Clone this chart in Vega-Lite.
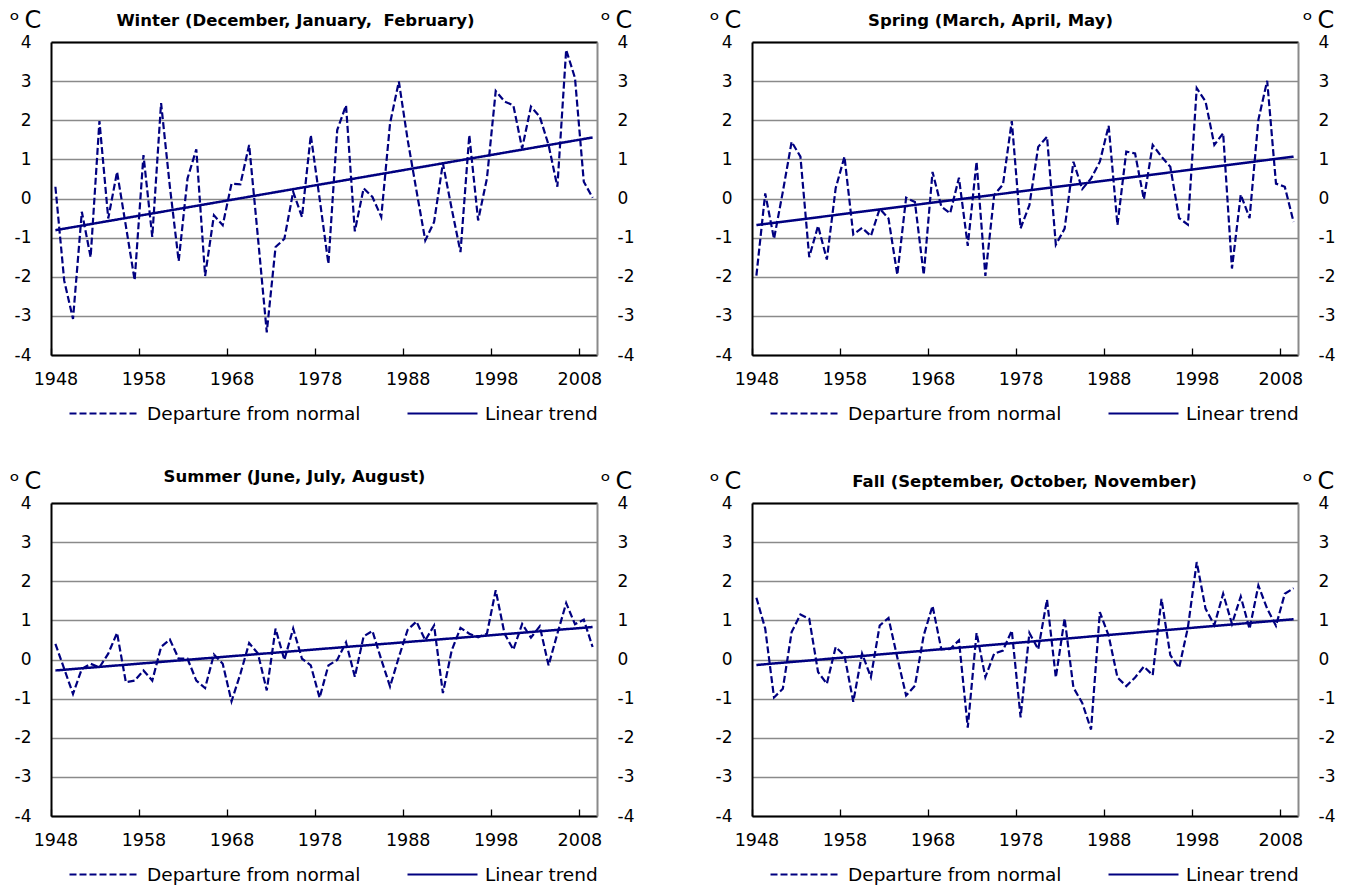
{
  "$schema": "https://vega.github.io/schema/vega-lite/v6.json",
  "background": "white",
  "padding": {"left": 9, "top": 8, "right": 5, "bottom": 5},
  "config": {
    "font": "DejaVu Sans, Liberation Sans, sans-serif",
    "view": {"stroke": null},
    "axis": {"labelFont": "DejaVu Sans", "titleFont": "DejaVu Sans", "labelColor": "black", "titleColor": "black", "labelFlush": false, "labelOverlap": false, "grid": false, "ticks": false, "domainWidth": 2},
    "axisLeft": {"grid": true, "gridColor": "#8a8a8a", "gridWidth": 1.3, "domainColor": "black", "labelFontSize": 17, "labelPadding": 20, "titleAngle": 0, "titleFontSize": 24, "titleFontWeight": "normal", "titleX": -26, "titleY": -22, "titleAlign": "center", "titleBaseline": "middle"},
    "axisRight": {"domainColor": "#8a8a8a", "labelFontSize": 17, "labelPadding": 20, "titleAngle": 0, "titleFontSize": 24, "titleFontWeight": "normal", "titleX": 20, "titleY": -22, "titleAlign": "center", "titleBaseline": "middle"},
    "axisBottom": {"ticks": true, "tickSize": -7, "tickColor": "black", "tickWidth": 1.3, "tickOffset": -4.4, "labelFontSize": 17.5, "labelPadding": 22, "domainColor": "black"},
    "axisTop": {"labels": false, "domainColor": "black", "titleFontSize": 16.5, "titleFontWeight": "bold", "titleAlign": "center", "titleBaseline": "middle", "titleY": -22},
    "legend": {"labelFont": "DejaVu Sans", "orient": "none", "legendX": 17, "legendY": 335, "direction": "horizontal", "symbolType": "stroke", "symbolSize": 4900, "symbolStrokeWidth": 2.2, "symbolStrokeColor": "#000080", "labelFontSize": 18.5, "labelColor": "black", "labelOffset": 6, "labelLimit": 400, "columnPadding": 42, "padding": 0}
  },
  "datasets": {
    "departures": [
      {"year": 1948, "Winter": 0.3, "Spring": -1.97, "Summer": 0.4, "Fall": 1.58},
      {"year": 1949, "Winter": -2.1, "Spring": 0.13, "Summer": -0.24, "Fall": 0.79},
      {"year": 1950, "Winter": -3.08, "Spring": -1.03, "Summer": -0.88, "Fall": -0.97},
      {"year": 1951, "Winter": -0.34, "Spring": 0.17, "Summer": -0.24, "Fall": -0.75},
      {"year": 1952, "Winter": -1.5, "Spring": 1.45, "Summer": -0.11, "Fall": 0.7},
      {"year": 1953, "Winter": 1.98, "Spring": 1.07, "Summer": -0.2, "Fall": 1.15},
      {"year": 1954, "Winter": -0.51, "Spring": -1.5, "Summer": 0.15, "Fall": 1.04},
      {"year": 1955, "Winter": 0.68, "Spring": -0.7, "Summer": 0.68, "Fall": -0.32},
      {"year": 1956, "Winter": -0.7, "Spring": -1.56, "Summer": -0.58, "Fall": -0.62},
      {"year": 1957, "Winter": -2.09, "Spring": 0.26, "Summer": -0.54, "Fall": 0.32},
      {"year": 1958, "Winter": 1.11, "Spring": 1.07, "Summer": -0.28, "Fall": 0.1},
      {"year": 1959, "Winter": -0.98, "Spring": -0.92, "Summer": -0.54, "Fall": -1.08},
      {"year": 1960, "Winter": 2.44, "Spring": -0.75, "Summer": 0.32, "Fall": 0.15},
      {"year": 1961, "Winter": 0.3, "Spring": -0.96, "Summer": 0.51, "Fall": -0.45},
      {"year": 1962, "Winter": -1.6, "Spring": -0.26, "Summer": 0.02, "Fall": 0.87},
      {"year": 1963, "Winter": 0.51, "Spring": -0.51, "Summer": 0.02, "Fall": 1.06},
      {"year": 1964, "Winter": 1.26, "Spring": -1.95, "Summer": -0.54, "Fall": 0.05},
      {"year": 1965, "Winter": -1.98, "Spring": 0.02, "Summer": -0.73, "Fall": -0.92},
      {"year": 1966, "Winter": -0.43, "Spring": -0.09, "Summer": 0.13, "Fall": -0.67},
      {"year": 1967, "Winter": -0.68, "Spring": -1.95, "Summer": -0.11, "Fall": 0.62},
      {"year": 1968, "Winter": 0.38, "Spring": 0.68, "Summer": -1.07, "Fall": 1.37},
      {"year": 1969, "Winter": 0.36, "Spring": -0.21, "Summer": -0.37, "Fall": 0.26},
      {"year": 1970, "Winter": 1.37, "Spring": -0.38, "Summer": 0.42, "Fall": 0.27},
      {"year": 1971, "Winter": -1.0, "Spring": 0.53, "Summer": 0.15, "Fall": 0.49},
      {"year": 1972, "Winter": -3.42, "Spring": -1.21, "Summer": -0.79, "Fall": -1.74},
      {"year": 1973, "Winter": -1.24, "Spring": 0.94, "Summer": 0.79, "Fall": 0.68},
      {"year": 1974, "Winter": -1.03, "Spring": -1.98, "Summer": -0.01, "Fall": -0.45},
      {"year": 1975, "Winter": 0.17, "Spring": 0.09, "Summer": 0.79, "Fall": 0.15},
      {"year": 1976, "Winter": -0.47, "Spring": 0.36, "Summer": 0.02, "Fall": 0.23},
      {"year": 1977, "Winter": 1.62, "Spring": 1.98, "Summer": -0.15, "Fall": 0.74},
      {"year": 1978, "Winter": 0.0, "Spring": -0.76, "Summer": -0.98, "Fall": -1.48},
      {"year": 1979, "Winter": -1.67, "Spring": -0.17, "Summer": -0.15, "Fall": 0.68},
      {"year": 1980, "Winter": 1.75, "Spring": 1.32, "Summer": -0.01, "Fall": 0.26},
      {"year": 1981, "Winter": 2.38, "Spring": 1.58, "Summer": 0.44, "Fall": 1.53},
      {"year": 1982, "Winter": -0.84, "Spring": -1.18, "Summer": -0.44, "Fall": -0.46},
      {"year": 1983, "Winter": 0.26, "Spring": -0.77, "Summer": 0.59, "Fall": 1.05},
      {"year": 1984, "Winter": 0.04, "Spring": 0.94, "Summer": 0.73, "Fall": -0.72},
      {"year": 1985, "Winter": -0.47, "Spring": 0.24, "Summer": 0.0, "Fall": -1.11},
      {"year": 1986, "Winter": 1.92, "Spring": 0.51, "Summer": -0.69, "Fall": -1.79},
      {"year": 1987, "Winter": 2.99, "Spring": 0.94, "Summer": 0.06, "Fall": 1.21},
      {"year": 1988, "Winter": 1.5, "Spring": 1.86, "Summer": 0.76, "Fall": 0.61},
      {"year": 1989, "Winter": 0.2, "Spring": -0.68, "Summer": 0.97, "Fall": -0.46},
      {"year": 1990, "Winter": -1.07, "Spring": 1.2, "Summer": 0.49, "Fall": -0.68},
      {"year": 1991, "Winter": -0.6, "Spring": 1.15, "Summer": 0.87, "Fall": -0.46},
      {"year": 1992, "Winter": 0.9, "Spring": -0.02, "Summer": -0.86, "Fall": -0.18},
      {"year": 1993, "Winter": -0.26, "Spring": 1.37, "Summer": 0.23, "Fall": -0.4},
      {"year": 1994, "Winter": -1.37, "Spring": 1.07, "Summer": 0.81, "Fall": 1.55},
      {"year": 1995, "Winter": 1.62, "Spring": 0.81, "Summer": 0.66, "Fall": 0.11},
      {"year": 1996, "Winter": -0.56, "Spring": -0.5, "Summer": 0.57, "Fall": -0.21},
      {"year": 1997, "Winter": 0.51, "Spring": -0.67, "Summer": 0.66, "Fall": 0.82},
      {"year": 1998, "Winter": 2.75, "Spring": 2.82, "Summer": 1.77, "Fall": 2.49},
      {"year": 1999, "Winter": 2.48, "Spring": 2.48, "Summer": 0.66, "Fall": 1.3},
      {"year": 2000, "Winter": 2.38, "Spring": 1.37, "Summer": 0.25, "Fall": 0.88},
      {"year": 2001, "Winter": 1.28, "Spring": 1.67, "Summer": 0.91, "Fall": 1.68},
      {"year": 2002, "Winter": 2.35, "Spring": -1.79, "Summer": 0.56, "Fall": 0.91},
      {"year": 2003, "Winter": 2.09, "Spring": 0.1, "Summer": 0.85, "Fall": 1.61},
      {"year": 2004, "Winter": 1.37, "Spring": -0.5, "Summer": -0.15, "Fall": 0.78},
      {"year": 2005, "Winter": 0.3, "Spring": 2.01, "Summer": 0.66, "Fall": 1.89},
      {"year": 2006, "Winter": 3.8, "Spring": 3.01, "Summer": 1.44, "Fall": 1.3},
      {"year": 2007, "Winter": 3.08, "Spring": 0.38, "Summer": 0.9, "Fall": 0.86},
      {"year": 2008, "Winter": 0.43, "Spring": 0.3, "Summer": 1.02, "Fall": 1.68},
      {"year": 2009, "Winter": 0.02, "Spring": -0.6, "Summer": 0.32, "Fall": 1.82}
    ],
    "trends": [
      {"season": "Winter", "year": 1948, "value": -0.81},
      {"season": "Winter", "year": 2009, "value": 1.56},
      {"season": "Spring", "year": 1948, "value": -0.68},
      {"season": "Spring", "year": 2009, "value": 1.07},
      {"season": "Summer", "year": 1948, "value": -0.28},
      {"season": "Summer", "year": 2009, "value": 0.83},
      {"season": "Fall", "year": 1948, "value": -0.14},
      {"season": "Fall", "year": 2009, "value": 1.03}
    ]
  },
  "columns": 2,
  "spacing": {"row": 148, "column": 155},
  "bounds": "flush",
  "resolve": {"scale": {"strokeDash": "independent"}, "legend": {"strokeDash": "independent"}},
  "concat": [
    {
      "width": 546, "height": 313,
      "layer": [
        {
          "data": {"name": "departures"},
          "mark": {"type": "line", "color": "#000080", "strokeWidth": 2.2},
          "encoding": {
            "x": {"field": "year", "type": "quantitative", "scale": {"domain": [1947.5, 2009.5], "nice": false, "zero": false},
              "axis": {"orient": "bottom", "values": [1948, 1958, 1968, 1978, 1988, 1998, 2008], "format": "d", "title": null, "labelOffset": {"condition": {"test": "datum.value === 2008", "value": 0}, "value": 4.4}}},
            "y": {"field": "Winter", "type": "quantitative", "scale": {"domain": [-4, 4], "nice": false, "zero": false},
              "axis": {"orient": "left", "values": [-4, -3, -2, -1, 0, 1, 2, 3, 4], "labelExpr": "toString(datum.value)", "title": "ᵒ\u2009C"}},
            "strokeDash": {"datum": "Departure from normal", "type": "nominal", "scale": {"domain": ["Departure from normal", "Linear trend"], "range": [[7, 3], [1, 0]]}, "legend": {"title": null}}
          }
        },
        {
          "data": {"name": "trends"},
          "transform": [{"filter": "datum.season === 'Winter'"}],
          "mark": {"type": "line", "color": "#000080", "strokeWidth": 2.5},
          "encoding": {
            "x": {"field": "year", "type": "quantitative", "axis": {"orient": "top", "title": "Winter (December, January,\u00a0 February)", "titleX": 244}},
            "y": {"field": "value", "type": "quantitative", "axis": {"orient": "right", "values": [-4, -3, -2, -1, 0, 1, 2, 3, 4], "labelExpr": "toString(datum.value)", "title": "ᵒ\u2009C", "titleX": 19}},
            "strokeDash": {"datum": "Linear trend", "type": "nominal", "scale": {"domain": ["Departure from normal", "Linear trend"], "range": [[7, 3], [1, 0]]}, "legend": {"title": null}}
          }
        }
      ],
      "resolve": {"axis": {"x": "independent", "y": "independent"}}
    },
    {
      "width": 546, "height": 313,
      "layer": [
        {
          "data": {"name": "departures"},
          "mark": {"type": "line", "color": "#000080", "strokeWidth": 2.2},
          "encoding": {
            "x": {"field": "year", "type": "quantitative", "scale": {"domain": [1947.5, 2009.5], "nice": false, "zero": false},
              "axis": {"orient": "bottom", "values": [1948, 1958, 1968, 1978, 1988, 1998, 2008], "format": "d", "title": null, "labelOffset": {"condition": {"test": "datum.value === 2008", "value": 0}, "value": 4.4}}},
            "y": {"field": "Spring", "type": "quantitative", "scale": {"domain": [-4, 4], "nice": false, "zero": false},
              "axis": {"orient": "left", "values": [-4, -3, -2, -1, 0, 1, 2, 3, 4], "labelExpr": "toString(datum.value)", "title": "ᵒ\u2009C", "titleX": -27}},
            "strokeDash": {"datum": "Departure from normal", "type": "nominal", "scale": {"domain": ["Departure from normal", "Linear trend"], "range": [[7, 3], [1, 0]]}, "legend": {"title": null}}
          }
        },
        {
          "data": {"name": "trends"},
          "transform": [{"filter": "datum.season === 'Spring'"}],
          "mark": {"type": "line", "color": "#000080", "strokeWidth": 2.5},
          "encoding": {
            "x": {"field": "year", "type": "quantitative", "axis": {"orient": "top", "title": "Spring (March, April, May)", "titleX": 238}},
            "y": {"field": "value", "type": "quantitative", "axis": {"orient": "right", "values": [-4, -3, -2, -1, 0, 1, 2, 3, 4], "labelExpr": "toString(datum.value)", "title": "ᵒ\u2009C", "titleX": 20}},
            "strokeDash": {"datum": "Linear trend", "type": "nominal", "scale": {"domain": ["Departure from normal", "Linear trend"], "range": [[7, 3], [1, 0]]}, "legend": {"title": null}}
          }
        }
      ],
      "resolve": {"axis": {"x": "independent", "y": "independent"}}
    },
    {
      "width": 546, "height": 313,
      "layer": [
        {
          "data": {"name": "departures"},
          "mark": {"type": "line", "color": "#000080", "strokeWidth": 2.2},
          "encoding": {
            "x": {"field": "year", "type": "quantitative", "scale": {"domain": [1947.5, 2009.5], "nice": false, "zero": false},
              "axis": {"orient": "bottom", "values": [1948, 1958, 1968, 1978, 1988, 1998, 2008], "format": "d", "title": null, "labelOffset": {"condition": {"test": "datum.value === 2008", "value": 0}, "value": 4.4}}},
            "y": {"field": "Summer", "type": "quantitative", "scale": {"domain": [-4, 4], "nice": false, "zero": false},
              "axis": {"orient": "left", "values": [-4, -3, -2, -1, 0, 1, 2, 3, 4], "labelExpr": "toString(datum.value)", "title": "ᵒ\u2009C"}},
            "strokeDash": {"datum": "Departure from normal", "type": "nominal", "scale": {"domain": ["Departure from normal", "Linear trend"], "range": [[7, 3], [1, 0]]}, "legend": {"title": null}}
          }
        },
        {
          "data": {"name": "trends"},
          "transform": [{"filter": "datum.season === 'Summer'"}],
          "mark": {"type": "line", "color": "#000080", "strokeWidth": 2.5},
          "encoding": {
            "x": {"field": "year", "type": "quantitative", "axis": {"orient": "top", "title": "Summer (June, July, August)", "titleX": 243, "titleY": -27}},
            "y": {"field": "value", "type": "quantitative", "axis": {"orient": "right", "values": [-4, -3, -2, -1, 0, 1, 2, 3, 4], "labelExpr": "toString(datum.value)", "title": "ᵒ\u2009C", "titleX": 19}},
            "strokeDash": {"datum": "Linear trend", "type": "nominal", "scale": {"domain": ["Departure from normal", "Linear trend"], "range": [[7, 3], [1, 0]]}, "legend": {"title": null}}
          }
        }
      ],
      "resolve": {"axis": {"x": "independent", "y": "independent"}}
    },
    {
      "width": 546, "height": 313,
      "layer": [
        {
          "data": {"name": "departures"},
          "mark": {"type": "line", "color": "#000080", "strokeWidth": 2.2},
          "encoding": {
            "x": {"field": "year", "type": "quantitative", "scale": {"domain": [1947.5, 2009.5], "nice": false, "zero": false},
              "axis": {"orient": "bottom", "values": [1948, 1958, 1968, 1978, 1988, 1998, 2008], "format": "d", "title": null, "labelOffset": {"condition": {"test": "datum.value === 2008", "value": 0}, "value": 4.4}}},
            "y": {"field": "Fall", "type": "quantitative", "scale": {"domain": [-4, 4], "nice": false, "zero": false},
              "axis": {"orient": "left", "values": [-4, -3, -2, -1, 0, 1, 2, 3, 4], "labelExpr": "toString(datum.value)", "title": "ᵒ\u2009C", "titleX": -27}},
            "strokeDash": {"datum": "Departure from normal", "type": "nominal", "scale": {"domain": ["Departure from normal", "Linear trend"], "range": [[7, 3], [1, 0]]}, "legend": {"title": null}}
          }
        },
        {
          "data": {"name": "trends"},
          "transform": [{"filter": "datum.season === 'Fall'"}],
          "mark": {"type": "line", "color": "#000080", "strokeWidth": 2.5},
          "encoding": {
            "x": {"field": "year", "type": "quantitative", "axis": {"orient": "top", "title": "Fall (September, October, November)", "titleX": 272}},
            "y": {"field": "value", "type": "quantitative", "axis": {"orient": "right", "values": [-4, -3, -2, -1, 0, 1, 2, 3, 4], "labelExpr": "toString(datum.value)", "title": "ᵒ\u2009C", "titleX": 20}},
            "strokeDash": {"datum": "Linear trend", "type": "nominal", "scale": {"domain": ["Departure from normal", "Linear trend"], "range": [[7, 3], [1, 0]]}, "legend": {"title": null}}
          }
        }
      ],
      "resolve": {"axis": {"x": "independent", "y": "independent"}}
    }
  ]
}
